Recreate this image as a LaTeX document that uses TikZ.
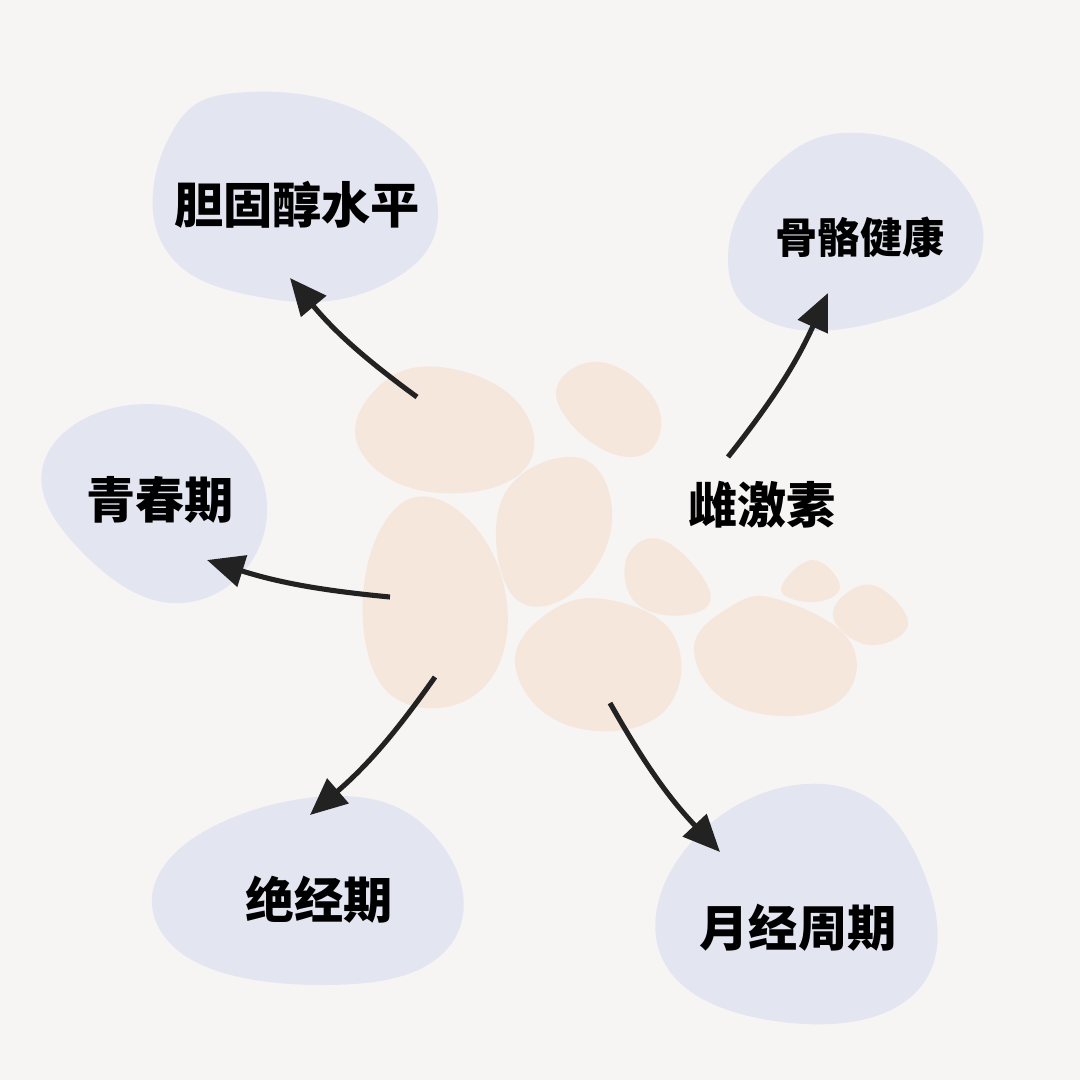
\documentclass[tikz,border=0pt]{standalone}
\usepackage{fontspec}
\usepackage{xcolor}
\usepackage{tikz}
\usetikzlibrary{arrows.meta, positioning}
\newfontfamily\cjk{Noto Sans CJK SC}[BoldFont={Noto Sans CJK SC Black}]
\definecolor{bgcol}{HTML}{F7F4F4}
\definecolor{bluecol}{HTML}{E3E6F1}
\definecolor{peachcol}{HTML}{F6E7DD}
\definecolor{inkcol}{HTML}{222222}

\begin{document}
\begin{tikzpicture}[
    x=0.02cm, y=-0.02cm,
    bblob/.style={fill=bluecol, draw=none},
    pblob/.style={fill=peachcol, draw=none},
    lbl/.style={font=\cjk\bfseries\fontsize{28}{30}\selectfont, text=black, inner sep=0pt},
    arr/.style={-{Triangle[length=0.74cm, width=0.64cm]}, line width=2.9pt, inkcol},
  ]
    \fill[bgcol] (0,0) rectangle (1080,1080);
    \useasboundingbox (0,0) rectangle (1080,1080);

    % blue blobs
    \fill[bblob] plot[smooth cycle, tension=0.75] coordinates {(250,92) (380,122) (438,210) (385,284) (265,298) (163,245) (172,132)};
    \fill[bblob] plot[smooth cycle, tension=0.75] coordinates {(860,133) (958,178) (976,268) (885,320) (772,323) (728,258) (772,168)};
    \fill[bblob] plot[smooth cycle, tension=0.75] coordinates {(130,405) (238,440) (262,540) (182,603) (82,552) (44,462)};
    \fill[bblob] plot[smooth cycle, tension=0.75] coordinates {(332,796) (442,845) (448,948) (322,985) (175,948) (176,852)};
    \fill[bblob] plot[smooth cycle, tension=0.75] coordinates {(832,785) (922,868) (918,990) (782,1022) (662,958) (698,835)};

    % peach blobs
    \fill[pblob] plot[smooth cycle, tension=0.75] coordinates {(440,367) (520,405) (522,472) (430,492) (360,450) (375,390)};
    \fill[pblob] plot[smooth cycle, tension=0.75] coordinates {(600,362) (656,402) (648,452) (595,445) (556,392)};
    \fill[pblob] plot[smooth cycle, tension=0.75] coordinates {(440,500) (502,578) (490,680) (410,705) (365,640) (380,530)};
    \fill[pblob] plot[smooth cycle, tension=0.75] coordinates {(580,458) (612,522) (570,595) (510,592) (504,495)};
    \fill[pblob] plot[smooth cycle, tension=0.75] coordinates {(610,600) (676,640) (660,715) (570,726) (516,670) (545,615)};
    \fill[pblob] plot[smooth cycle, tension=0.75] coordinates {(665,541) (710,592) (685,615) (635,602) (628,555)};
    \fill[pblob] plot[smooth cycle, tension=0.75] coordinates {(780,600) (852,645) (832,706) (740,708) (694,652) (730,607)};
    \fill[pblob] plot[smooth cycle, tension=0.75] coordinates {(812,560) (840,586) (815,602) (781,590)};
    \fill[pblob] plot[smooth cycle, tension=0.75] coordinates {(880,588) (908,625) (870,645) (834,620) (848,592)};

    % labels
    \node[lbl] (center)  at (762,505) {雌激素};
    \node[lbl] (chol)    at (297,205) {胆固醇水平};
    \node[lbl, font=\cjk\bfseries\fontsize{24}{26}\selectfont] (bone) at (860,237) {骨骼健康};
    \node[lbl] (puberty) at (160,500) {青春期};
    \node[lbl] (meno)    at (319,900) {绝经期};
    \node[lbl] (cycle)   at (798,928) {月经周期};

    % arrow ends
    \coordinate (s1) at (417,397);  \coordinate (e1) at (290,278);
    \coordinate (s2) at (728,457);  \coordinate (e2) at (828,293);
    \coordinate (s3) at (390,597);  \coordinate (e3) at (207,560);
    \coordinate (s4) at (435,677);  \coordinate (e4) at (310,815);
    \coordinate (s5) at (610,703);  \coordinate (e5) at (720,852);

    \draw[arr, bend left=7]  (s1) to (e1);
    \draw[arr, bend right=7] (s2) to (e2);
    \draw[arr, bend left=6]  (s3) to (e3);
    \draw[arr, bend left=7]  (s4) to (e4);
    \draw[arr, bend right=7] (s5) to (e5);
\end{tikzpicture}
\end{document}
